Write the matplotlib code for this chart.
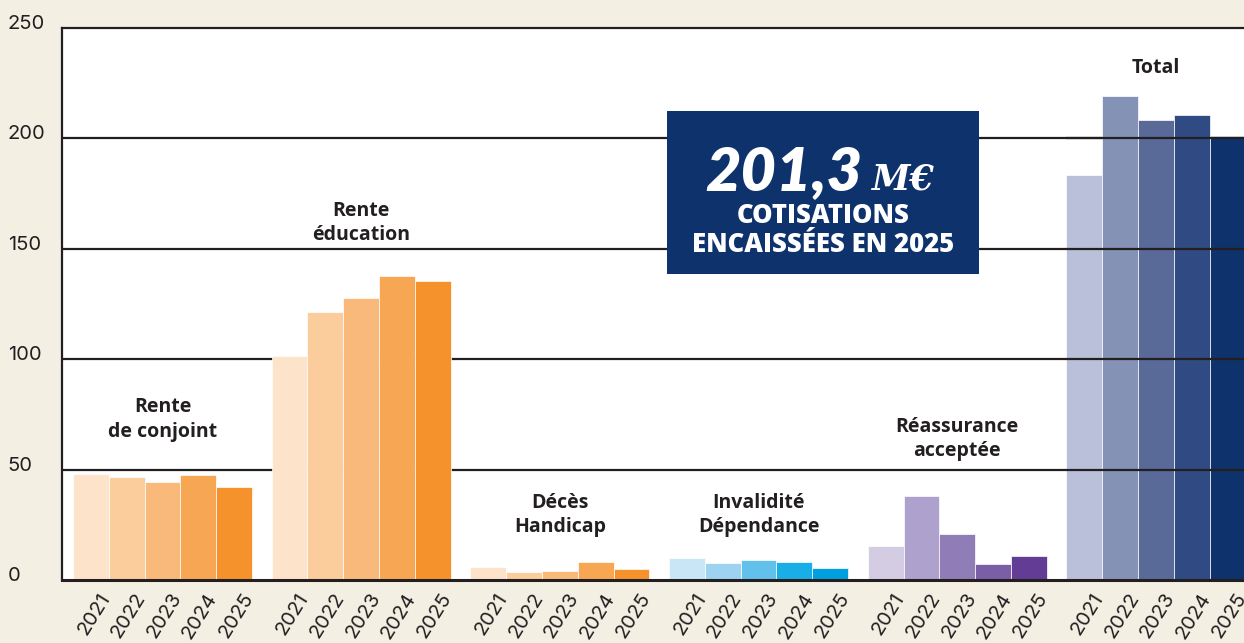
import numpy as np
import matplotlib.pyplot as plt
from matplotlib.patches import Rectangle
from matplotlib.transforms import ScaledTranslation

# data (M€)
years = ['2021', '2022', '2023', '2024', '2025']
groups = ['Rente\nde conjoint', 'Rente\néducation', 'Décès\nHandicap',
          'Invalidité\nDépendance', 'Réassurance\nacceptée', 'Total']
rente_conjoint = [48.0, 46.6, 44.4, 47.6, 42.1]
rente_education = [101.4, 121.4, 127.7, 137.7, 135.4]
deces_handicap = [6.0, 3.5, 4.2, 8.0, 5.1]
invalidite_dependance = [10.1, 7.8, 9.2, 8.3, 5.6]
reassurance = [15.2, 37.9, 21.0, 7.4, 10.7]
total = [183.4, 219.3, 208.5, 210.7, 201.3]
series = [rente_conjoint, rente_education, deces_handicap,
          invalidite_dependance, reassurance, total]

orange = ['#FDE3CA', '#FBCC9C', '#F9B97A', '#F7A754', '#F6922B']
blue = ['#C9E6F7', '#9DD3F0', '#62C1EB', '#19AEE6', '#00A0E0']
purple = ['#D3CCE3', '#AFA1CE', '#907DB7', '#7A5FA7', '#633C96']
navy = ['#BAC0D9', '#8492B6', '#5A6A98', '#304B83', '#0E326C']
palettes = [orange, orange, orange, blue, purple, navy]
label_y = [72.6, 161.6, 29.4, 29.4, 63.8, 232.0]

bg = '#F3EFE3'
ink = '#231F20'
pitch = 5.55

fig = plt.figure(figsize=(12.44, 6.43), dpi=100, facecolor=bg)
ax = fig.add_axes([62 / 1244, 63 / 643, 1 - 62 / 1244, 552 / 643])
ax.set_facecolor('white')

ticks, ticklabels = [], []
for g, (vals, cols) in enumerate(zip(series, palettes)):
    x = g * pitch + np.arange(len(vals))
    ax.bar(x, vals, width=1.0, color=cols, edgecolor='white', linewidth=0.5, zorder=2)
    ticks.extend(x)
    ticklabels.extend(years)
    ax.text(x.mean(), label_y[g], groups[g], ha='center', va='center',
            fontsize=14, fontweight='bold', family='Open Sans', color=ink,
            linespacing=1.3, zorder=5)

ax.set_xlim(-0.807, 32.21)
ax.set_ylim(0, 250)

# gridlines: behind bars, but above the Total group
for yv in [50, 100, 150, 200]:
    ax.axhline(yv, color=ink, lw=1.6, zorder=1)
    ax.hlines(yv, 5 * pitch - 0.5, 32.3, color=ink, lw=1.6, zorder=3)

ax.spines['right'].set_visible(False)
ax.spines['top'].set_linewidth(1.6)
ax.spines['left'].set_linewidth(1.6)
ax.spines['bottom'].set_linewidth(2.2)
for s in ['top', 'left', 'bottom']:
    ax.spines[s].set_color(ink)
    ax.spines[s].set_zorder(6)

ax.set_yticks([0, 50, 100, 150, 200, 250])
ax.set_yticklabels(['0', '50', '100', '150', '200', '250'],
                   fontsize=14.5, family='Inter', color=ink, ha='left')
ax.tick_params(axis='y', length=0, pad=39)
for lab in ax.get_yticklabels():
    lab.set_transform(lab.get_transform() + ScaledTranslation(0, 0.06, fig.dpi_scale_trans))

ax.set_xticks(ticks)
ax.set_xticklabels(ticklabels, rotation=58, ha='right', va='center',
                   rotation_mode='anchor', fontsize=14.5, family='Inter', color=ink)
ax.tick_params(axis='x', length=0, pad=4)
for lab in ax.get_xticklabels():
    lab.set_transform(lab.get_transform() + ScaledTranslation(0.15, -0.09, fig.dpi_scale_trans))

# highlight box
W, H = 1244, 643
fig.patches.append(Rectangle((667 / W, 1 - 274 / H), 312 / W, 163 / H,
                             transform=fig.transFigure, facecolor='#0E326C',
                             edgecolor='none', zorder=10))
fig.text(862 / W, 1 - 190 / H, '201,3', ha='right', va='baseline', color='white',
         fontsize=44, fontweight='heavy', style='italic', family='Lato', zorder=11)
fig.text(872 / W, 1 - 190 / H, 'M€', ha='left', va='baseline', color='white',
         fontsize=25, fontweight='bold', style='italic', family='DejaVu Serif', zorder=11)
fig.text(823 / W, 1 - 216 / H, 'COTISATIONS', ha='center', va='center', color='white',
         fontsize=18.5, fontweight='heavy', family='Open Sans', zorder=11)
fig.text(823 / W, 1 - 245 / H, 'ENCAISSÉES EN 2025', ha='center', va='center', color='white',
         fontsize=18.5, fontweight='heavy', family='Open Sans', zorder=11)

fig.savefig('out.png', dpi=100, facecolor=bg)
